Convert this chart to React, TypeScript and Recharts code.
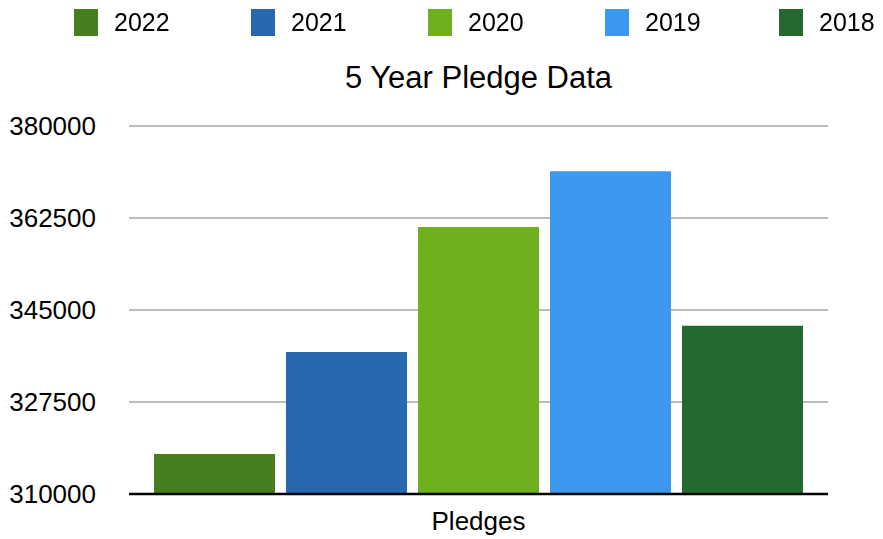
import { BarChart, Bar, XAxis, YAxis, CartesianGrid } from "recharts";

const categories = ["Pledges"];
const years = ["2022", "2021", "2020", "2019", "2018"];
const pledges = [317600, 337000, 360800, 371400, 342000];
const colors = ["#46801E", "#2669B1", "#6EB01E", "#3B98EE", "#246A30"];
const yTicks = [310000, 327500, 345000, 362500, 380000];

const data = categories.map((name) => {
  const row: Record<string, string | number> = { name };
  years.forEach((y, i) => {
    row[y] = pledges[i];
  });
  return row;
});

const FONT = "'Liberation Sans', Arial, Helvetica, sans-serif";
const legendItemWidths = [177, 177, 177, 174];

function PledgeLegend() {
  return (
    <div
      style={{
        position: "fixed",
        top: 6,
        left: 74,
        height: 32,
        display: "flex",
        alignItems: "center",
        whiteSpace: "nowrap",
        lineHeight: "30px",
      }}
    >
      {years.map((y, i) => (
        <div
          key={y}
          style={{
            display: "flex",
            alignItems: "center",
            width: legendItemWidths[i] ?? "auto",
            flexShrink: 0,
          }}
        >
          <span style={{ width: 24, height: 27, background: colors[i], display: "inline-block" }} />
          <span style={{ marginLeft: 16, fontSize: 25, color: "#000", fontFamily: FONT }}>{y}</span>
        </div>
      ))}
    </div>
  );
}

export default function App() {
  return (
    <div style={{ position: "relative", width: 867, height: 531, fontFamily: FONT }}>
      <BarChart
        width={867}
        height={531}
        data={data}
        margin={{ top: 118, right: 47, left: 0, bottom: 0 }}
        barCategoryGap={25}
        barGap={11}
      >
        <CartesianGrid vertical={false} stroke="#BDBDBD" strokeWidth={2} />
        <XAxis
          dataKey="name"
          axisLine={{ stroke: "#000", strokeWidth: 2.5 }}
          tickLine={false}
          tick={{ fill: "#000", fontSize: 26, fontFamily: FONT }}
          tickMargin={12}
          height={45}
        />
        <YAxis
          domain={[310000, 380000]}
          ticks={yTicks}
          axisLine={false}
          tickLine={false}
          width={121}
          tick={{ fill: "#000", fontSize: 26, fontFamily: FONT }}
          tickMargin={27}
          allowDataOverflow
        />
        {years.map((y, i) => (
          <Bar key={y} dataKey={y} name={y} fill={colors[i]} isAnimationActive={false} />
        ))}
      </BarChart>
      <PledgeLegend />
      <div
        style={{
          position: "absolute",
          top: 52,
          left: 121,
          width: 699,
          textAlign: "center",
          fontSize: 31,
          color: "#000",
          fontFamily: FONT,
        }}
      >
        5 Year Pledge Data
      </div>
    </div>
  );
}
